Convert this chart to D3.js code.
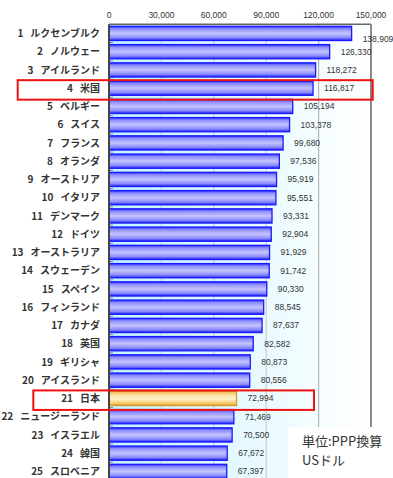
<!DOCTYPE html>
<html>
<head>
<meta charset="utf-8">
<script src="https://cdn.jsdelivr.net/npm/d3@7"></script>
<style>
  html, body { margin: 0; padding: 0; background: #fff; }
  svg { display: block; }
</style>
</head>
<body>
<div id="chart"></div>
<script>
const countries = ["ルクセンブルク", "ノルウェー", "アイルランド", "米国", "ベルギー", "スイス", "フランス", "オランダ", "オーストリア", "イタリア", "デンマーク", "ドイツ", "オーストラリア", "スウェーデン", "スペイン", "フィンランド", "カナダ", "英国", "ギリシャ", "アイスランド", "日本", "ニュージーランド", "イスラエル", "韓国", "スロベニア"]
const values = [138909, 126330, 118272, 116817, 105194, 103378, 99680, 97536, 95919, 95551, 93331, 92904, 91929, 91742, 90330, 88545, 87637, 82582, 80873, 80556, 72994, 71469, 70500, 67672, 67397]
const xTicks = [0, 30000, 60000, 90000, 120000, 150000]
const boxed = ["米国", "日本"]
const japan = "日本"
const unitLines = ["単位:PPP換算", "USドル"]

const width = 393
const height = 478
const margin = { top: 24.3, right: 22, left: 109 }
const rowStep = 18.25
const plotBottom = margin.top + rowStep * countries.length

const rows = countries.map((c, i) => ({ rank: i + 1, name: c, value: values[i] }))

const x = d3.scaleLinear().domain([0, 150000]).range([margin.left, width - margin.right])
const y = d3.scaleBand().domain(countries).range([margin.top, plotBottom]).paddingInner(0.22).paddingOuter(0.11)

const svg = d3.select("#chart").append("svg")
  .attr("width", width).attr("height", height)
  .attr("viewBox", `0 0 ${width} ${height}`)

const defs = svg.append("defs")
const bg = defs.append("linearGradient").attr("id", "bg").attr("x1", 0).attr("x2", 1).attr("y1", 0).attr("y2", 0)
bg.append("stop").attr("offset", "0%").attr("stop-color", "#c0f4ff")
bg.append("stop").attr("offset", "55%").attr("stop-color", "#e8faff")
bg.append("stop").attr("offset", "100%").attr("stop-color", "#ffffff")

const blue = defs.append("linearGradient").attr("id", "blue").attr("x1", 0).attr("x2", 0).attr("y1", 0).attr("y2", 1)
blue.append("stop").attr("offset", "0%").attr("stop-color", "#2a2aff")
blue.append("stop").attr("offset", "18%").attr("stop-color", "#8e8eff")
blue.append("stop").attr("offset", "50%").attr("stop-color", "#c4c4ff")
blue.append("stop").attr("offset", "80%").attr("stop-color", "#8a8aff")
blue.append("stop").attr("offset", "100%").attr("stop-color", "#2020f5")

const gold = defs.append("linearGradient").attr("id", "gold").attr("x1", 0).attr("x2", 0).attr("y1", 0).attr("y2", 1)
gold.append("stop").attr("offset", "0%").attr("stop-color", "#f0b848")
gold.append("stop").attr("offset", "30%").attr("stop-color", "#fde6a8")
gold.append("stop").attr("offset", "55%").attr("stop-color", "#fff2cc")
gold.append("stop").attr("offset", "85%").attr("stop-color", "#f6c868")
gold.append("stop").attr("offset", "100%").attr("stop-color", "#e2a030")

// plot background
svg.append("rect")
  .attr("x", margin.left).attr("y", margin.top)
  .attr("width", x(150000) - margin.left).attr("height", plotBottom - margin.top)
  .attr("fill", "url(#bg)")

// gridlines
svg.append("g")
  .selectAll("line")
  .data(xTicks.slice(1, -1))
  .enter().append("line")
  .attr("x1", (d) => x(d)).attr("x2", (d) => x(d))
  .attr("y1", margin.top).attr("y2", plotBottom)
  .attr("stroke", (d) => (d === 120000 ? "#b8b8b8" : "#cfcfcf"))
  .attr("stroke-width", 1.2)

// top tick labels
svg.append("g")
  .selectAll("text")
  .data(xTicks)
  .enter().append("text")
  .attr("x", (d) => x(d)).attr("y", 18)
  .attr("text-anchor", "middle")
  .attr("font-family", "Liberation Sans, Arial, sans-serif")
  .attr("font-size", "8.5px")
  .attr("fill", "#333")
  .text((d) => d3.format(",")(d))

// bars
svg.append("g")
  .selectAll("rect")
  .data(rows)
  .enter().append("rect")
  .attr("x", x(0))
  .attr("y", (d) => y(d.name))
  .attr("width", (d) => x(d.value) - x(0))
  .attr("height", y.bandwidth())
  .attr("fill", (d) => (d.name === japan ? "url(#gold)" : "url(#blue)"))
  .attr("stroke", (d) => (d.name === japan ? "#d89a2a" : "#1a1aff"))
  .attr("stroke-width", 1.3)

// small category ticks inside the axis
svg.append("g")
  .selectAll("line")
  .data(rows)
  .enter().append("line")
  .attr("x1", x(0)).attr("x2", x(0) + 4)
  .attr("y1", (d) => y(d.name) + y.bandwidth() + y.step() * y.paddingInner() / 2)
  .attr("y2", (d) => y(d.name) + y.bandwidth() + y.step() * y.paddingInner() / 2)
  .attr("stroke", "#888")
  .attr("stroke-width", 1)

// frame
svg.append("line")
  .attr("x1", x(0)).attr("x2", x(150000)).attr("y1", margin.top).attr("y2", margin.top)
  .attr("stroke", "#666").attr("stroke-width", 1.5)
svg.append("line")
  .attr("x1", x(150000)).attr("x2", x(150000)).attr("y1", margin.top).attr("y2", plotBottom)
  .attr("stroke", "#8a8a8a").attr("stroke-width", 2)
svg.append("line")
  .attr("x1", x(0)).attr("x2", x(0)).attr("y1", margin.top).attr("y2", plotBottom)
  .attr("stroke", "#444").attr("stroke-width", 2)

// category labels: rank, gap, name
const catLabels = svg.append("g")
  .selectAll("text")
  .data(rows)
  .enter().append("text")
  .attr("x", 100)
  .attr("y", (d) => y(d.name) + y.bandwidth() / 2)
  .attr("dy", "0.36em")
  .attr("text-anchor", "end")
  .attr("font-family", "Noto Sans CJK JP, sans-serif")
  .attr("font-weight", "bold")
  .attr("font-size", "10px")
  .attr("fill", "#333")
catLabels.append("tspan").text((d) => d.rank)
catLabels.append("tspan").attr("dx", 7).text((d) => d.name)

// value labels
svg.append("g")
  .selectAll("text")
  .data(rows)
  .enter().append("text")
  .attr("x", (d) => x(d.value) + 11)
  .attr("y", (d) => y(d.name) + y.bandwidth() / 2 + (d.rank === 1 ? 6 : 0))
  .attr("dy", "0.35em")
  .attr("font-family", "Liberation Sans, Arial, sans-serif")
  .attr("font-size", "8.5px")
  .attr("fill", "#333")
  .text((d) => d3.format(",")(d.value))

// red highlight boxes
const boxSpan = { "米国": [17.7, 372.7], "日本": [33.3, 314] }
svg.append("g")
  .selectAll("rect")
  .data(boxed)
  .enter().append("rect")
  .attr("x", (d) => boxSpan[d][0])
  .attr("y", (d) => y(d) + y.bandwidth() / 2 - 8)
  .attr("width", (d) => boxSpan[d][1] - boxSpan[d][0])
  .attr("height", 19.5)
  .attr("fill", "none")
  .attr("stroke", "#ee1111")
  .attr("stroke-width", 2)

// unit note
svg.append("rect")
  .attr("x", 288).attr("y", 427).attr("width", 105).attr("height", 51)
  .attr("fill", "#fff")
svg.append("g")
  .selectAll("text")
  .data(unitLines)
  .enter().append("text")
  .attr("x", 302)
  .attr("y", (d, i) => 446 + i * 18.5)
  .attr("font-family", "Noto Sans CJK JP, sans-serif")
  .attr("font-size", "13px")
  .attr("fill", "#333")
  .text((d) => d)
</script>
</body>
</html>
